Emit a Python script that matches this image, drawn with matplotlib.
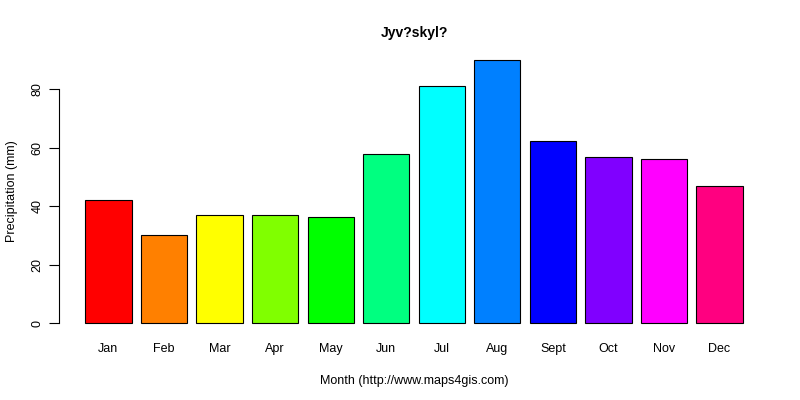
import matplotlib
matplotlib.use("Agg")
import matplotlib.pyplot as plt
import numpy as np

months = ["Jan", "Feb", "Mar", "Apr", "May", "Jun", "Jul", "Aug", "Sept", "Oct", "Nov", "Dec"]
precip = [42, 30, 37, 37, 36.2, 58, 81.3, 90.2, 62.2, 57, 56, 47]
colors = ["#FF0000", "#FF8000", "#FFFF00", "#80FF00", "#00FF00", "#00FF80",
          "#00FFFF", "#0080FF", "#0000FF", "#8000FF", "#FF00FF", "#FF0080"]
yticks = [0, 20, 40, 60, 80]

plt.rcParams['font.family'] = ['Liberation Sans', 'DejaVu Sans']

fig = plt.figure(figsize=(8, 4), dpi=100)
ax = fig.add_axes([0.07375, 0.166, 0.8875, 0.7115])

# R barplot layout: width 1, space 0.2
x = 0.2 + 1.2 * np.arange(len(months)) + 0.5
ax.bar(x, precip, width=1.0, color=colors, edgecolor="black", linewidth=0.8)

ymax = max(precip)
ax.set_xlim(0.2 - 0.04 * 14.2, 14.4 + 0.04 * 14.2)
ax.set_ylim(-0.04 * ymax, ymax * 1.04)

for s in ["top", "right", "bottom"]:
    ax.spines[s].set_visible(False)
ax.spines["left"].set_bounds(0, 80)
ax.spines["left"].set_linewidth(0.8)

ax.set_yticks(yticks)
ax.set_yticklabels([str(v) for v in yticks], rotation=90, va="center", fontsize=9)
ax.tick_params(axis="y", length=7, width=0.8, pad=4)

ax.set_xticks(x)
ax.set_xticklabels(months, fontsize=9)
ax.tick_params(axis="x", length=0, pad=7)

ax.set_xlabel("Month (http://www.maps4gis.com)", fontsize=9, labelpad=14)
ax.set_ylabel("Precipitation (mm)", fontsize=9, labelpad=10)
ax.set_title("Jyv?skyl?", fontsize=10, fontweight="bold", pad=9)

fig.savefig("out.png", dpi=100)
